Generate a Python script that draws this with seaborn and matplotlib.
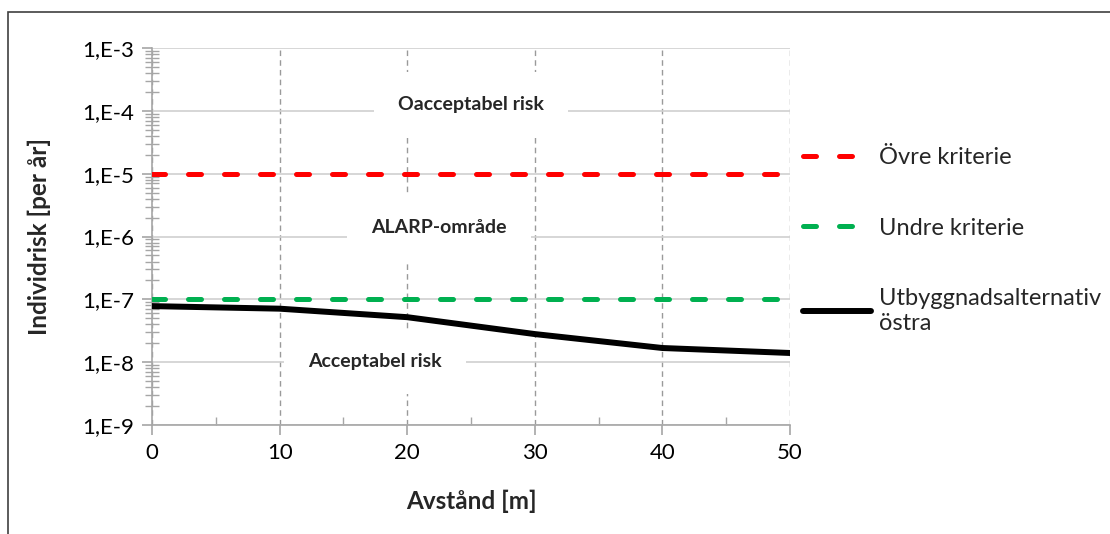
import numpy as np
import pandas as pd
import matplotlib
matplotlib.use("Agg")
import matplotlib.pyplot as plt
import matplotlib.ticker as mticker
from matplotlib.patches import Rectangle
import seaborn as sns

# data
avstand = [0, 10, 20, 30, 40, 50]
ovre_kriterie = [1e-5, 1e-5, 1e-5, 1e-5, 1e-5, 1e-5]
undre_kriterie = [1e-7, 1e-7, 1e-7, 1e-7, 1e-7, 1e-7]
utbyggnad_ostra = [7.8e-8, 7.1e-8, 5.2e-8, 2.8e-8, 1.68e-8, 1.4e-8]

labels = ["Övre kriterie", "Undre kriterie", "Utbyggnadsalternativ\nöstra"]

sns.set_style("white")
plt.rcParams["font.family"] = ["Lato", "DejaVu Sans"]

fig = plt.figure(figsize=(11.1, 5.34), dpi=100)
ax = fig.add_axes([152 / 1110, 1 - 425 / 534, (790 - 152) / 1110, (425 - 48) / 534])

sns.lineplot(x=avstand, y=ovre_kriterie, ax=ax, color="#ff0000", lw=3.6,
             linestyle=(0, (2.6, 4.6)), dash_capstyle="round", label=labels[0], zorder=3)
sns.lineplot(x=avstand, y=undre_kriterie, ax=ax, color="#00b050", lw=3.6,
             linestyle=(0, (2.6, 4.6)), dash_capstyle="round", label=labels[1], zorder=3)
sns.lineplot(x=avstand, y=utbyggnad_ostra, ax=ax, color="black", lw=4.3,
             label=labels[2], zorder=3)

ax.set_yscale("log")
ax.set_ylim(1e-9, 1e-3)
ax.set_xlim(0, 50)
ax.set_xticks([0, 10, 20, 30, 40, 50])
ax.xaxis.set_minor_locator(mticker.MultipleLocator(5))
ax.yaxis.set_major_locator(mticker.LogLocator(base=10, numticks=10))
ax.yaxis.set_minor_locator(mticker.LogLocator(base=10, subs=np.arange(2, 10), numticks=20))
ax.yaxis.set_minor_formatter(mticker.NullFormatter())
ax.yaxis.set_major_formatter(mticker.FuncFormatter(lambda v, p: "1,E%d" % round(np.log10(v))))

ax.set_axisbelow(True)
ax.grid(True, axis="y", which="major", color="#d0d0d0", lw=1.2, linestyle="-")
ax.grid(True, axis="x", which="major", color="#9a9a9a", lw=1.0, linestyle=(0, (4, 3)))

for s in ["top", "right"]:
    ax.spines[s].set_visible(False)
for s in ["left", "bottom"]:
    ax.spines[s].set_color("#a6a6a6")
    ax.spines[s].set_linewidth(1.2)

ax.tick_params(which="both", left=True, bottom=True)
ax.tick_params(axis="both", which="major", labelsize=16, colors="#a6a6a6",
               labelcolor="black", direction="out", length=7, width=1.2, pad=6)
ax.tick_params(axis="y", which="minor", direction="inout", length=10, width=1.0, colors="#a6a6a6")
ax.tick_params(axis="x", which="minor", direction="in", length=6, width=1.0, colors="#a6a6a6")

ax.set_xlabel("Avstånd [m]", fontsize=17.5, fontweight="bold", labelpad=19)
ax.set_ylabel("Individrisk [per år]", fontsize=17.5, fontweight="bold", labelpad=22)

box = dict(boxstyle="square,pad=1.25", facecolor="white", edgecolor="none")
ax.text(25.0, 10 ** -3.9, "Oacceptabel risk", ha="center", va="center", fontsize=14,
        fontweight="bold", bbox=box, zorder=1.5)
ax.text(22.5, 10 ** -5.86, "ALARP-område", ha="center", va="center", fontsize=14,
        fontweight="bold", bbox=box, zorder=1.5)
ax.text(17.5, 10 ** -7.99, "Acceptabel risk", ha="center", va="center", fontsize=14,
        fontweight="bold", bbox=box, zorder=1.5)

ax.legend(loc="upper left", bbox_to_anchor=(803 / 1110, 1 - 147 / 534),
          bbox_transform=fig.transFigure, frameon=False, fontsize=17,
          handlelength=2.9, handletextpad=0.3, labelspacing=2.1, borderpad=0,
          borderaxespad=0)

fig.patches.append(Rectangle((8 / 1110, -0.1), 1.2, 1 - 12 / 534 + 0.1, transform=fig.transFigure,
                             fill=False, edgecolor="#404040", lw=1.2))

fig.savefig("out.png", dpi=100)
